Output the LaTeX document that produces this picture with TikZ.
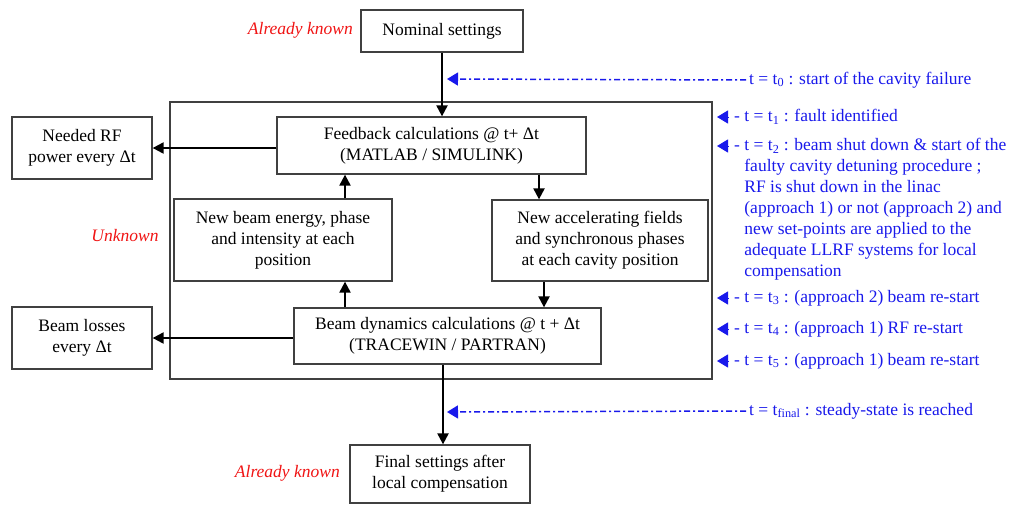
\documentclass[tikz,border=0pt]{standalone}
\usepackage{fontspec}
\setmainfont{Liberation Serif}
\usetikzlibrary{arrows.meta}
\definecolor{annblue}{RGB}{25,25,235}
\definecolor{knownred}{RGB}{240,20,20}
\begin{document}
\begin{tikzpicture}[x=1pt,y=-1pt,
  every node/.style={font=\fontsize{17.5}{21}\selectfont},
  box/.style={draw=black!75, line width=1.3pt, fill=white, align=center, inner sep=0pt},
  arr/.style={-{Triangle[length=11pt,width=11pt]}, line width=2.2pt, black},
  ann/.style={text=annblue, anchor=west, inner sep=0pt, align=left},
  anndash/.style={annblue, line width=1.5pt, dash pattern=on 6pt off 3pt on 2pt off 3pt, -{Triangle[length=11pt,width=13pt]}},
  annhead/.style={annblue, line width=1pt, -{Triangle[length=11pt,width=13pt]}, shorten <=5pt},
  note/.style={text=knownred, font=\fontsize{17.5}{21}\selectfont\itshape, inner sep=0pt}
]
\useasboundingbox (0,0) rectangle (1014,506);
% outer frame
\node[draw=black!75, line width=1.3pt, minimum width=542pt, minimum height=277pt, inner sep=0pt] (outer) at (441,240.5) {};
% boxes
\node[box, minimum width=162pt, minimum height=42pt] (nom) at (442,31) {Nominal settings};
\node[box, minimum width=140pt, minimum height=62pt] (rf) at (82,148) {Needed RF\\power every Δt};
\node[box, minimum width=309pt, minimum height=57pt] (fb) at (431.5,145.5) {Feedback calculations @ t+ Δt\\(MATLAB / SIMULINK)};
\node[box, minimum width=218pt, minimum height=82pt] (nbe) at (283,240) {New beam energy, phase\\and intensity at each\\position};
\node[box, minimum width=216pt, minimum height=81pt] (nacc) at (600,240.5) {New accelerating fields\\and synchronous phases\\at each cavity position};
\node[box, minimum width=140pt, minimum height=62pt] (bl) at (82,338) {Beam losses\\every Δt};
\node[box, minimum width=307pt, minimum height=56pt] (bd) at (447.5,336) {Beam dynamics calculations @ t + Δt\\(TRACEWIN / PARTRAN)};
\node[box, minimum width=180pt, minimum height=58pt] (fin) at (440,474) {Final settings after\\local compensation};
% connectors
\coordinate (xa) at (539,0);
\coordinate (xb) at (544,0);
\coordinate (xc) at (345,0);
\coordinate (xd) at (443,0);
\draw[arr] (nom.south) -- (nom.south |- fb.north);
\draw[arr] (rf.east -| fb.west) -- (rf.east);
\draw[arr] (xa |- fb.south) -- (xa |- nacc.north);
\draw[arr] (xb |- nacc.south) -- (xb |- bd.north);
\draw[arr] (xc |- bd.north) -- (xc |- nbe.south);
\draw[arr] (xc |- nbe.north) -- (xc |- fb.south);
\draw[arr] (bl.east -| bd.west) -- (bl.east);
\draw[arr] (xd |- bd.south) -- (xd |- fin.north);
% red notes
\node[note, anchor=east] (k1) at (353,30) {Already known};
\node[note] (unk) at (125,236) {Unknown};
\node[note, anchor=east] (k2) at (340,473) {Already known};
% blue annotations
\node[ann] (t0) at (749,80) {t = t\textsubscript{0} : start of the cavity failure};
\coordinate (t0tip) at (447,79);
\draw[anndash, shorten <=3pt] (t0.west) -- (t0tip);
\node[ann] (t1) at (734,117) {- t = t\textsubscript{1} : fault identified};
\coordinate (t1tip) at (717,117);
\draw[annhead] (t1.west) -- (t1tip);
\node[ann, anchor=north west] (t2) at (734,138) {- t = t\textsubscript{2} : beam shut down \& start of the\\\phantom{- }faulty cavity detuning procedure ;\\\phantom{- }RF is shut down in the linac\\\phantom{- }(approach 1) or not (approach 2) and\\\phantom{- }new set-points are applied to the\\\phantom{- }adequate LLRF systems for local\\\phantom{- }compensation};
\coordinate (t2tip) at (717,146);
\draw[annhead] (t2.west |- t2tip) -- (t2tip);
\node[ann] (t3) at (734,298) {- t = t\textsubscript{3} : (approach 2) beam re-start};
\coordinate (t3tip) at (717,298);
\draw[annhead] (t3.west) -- (t3tip);
\node[ann] (t4) at (734,329) {- t = t\textsubscript{4} : (approach 1) RF re-start};
\coordinate (t4tip) at (717,329);
\draw[annhead] (t4.west) -- (t4tip);
\node[ann] (t5) at (734,361) {- t = t\textsubscript{5} : (approach 1) beam re-start};
\coordinate (t5tip) at (717,361);
\draw[annhead] (t5.west) -- (t5tip);
\node[ann] (tf) at (749,411) {t = t\textsubscript{final} : steady-state is reached};
\coordinate (tftip) at (447,412);
\draw[anndash, shorten <=3pt] (tf.west) -- (tftip);
\end{tikzpicture}
\end{document}
